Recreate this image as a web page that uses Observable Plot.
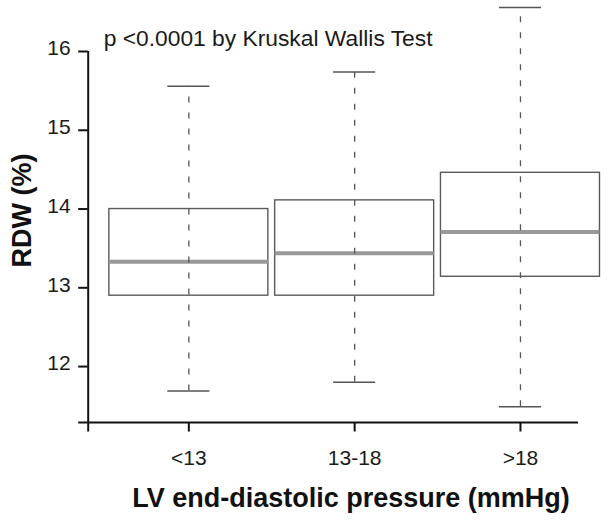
<!DOCTYPE html>
<html><head><meta charset="utf-8">
<script src="https://cdn.jsdelivr.net/npm/d3@7"></script>
<script src="https://cdn.jsdelivr.net/npm/@observablehq/plot@0.6"></script>
<style>body{margin:0;background:#fff}#chart svg{display:block}</style>
</head><body><div id="chart"></div>
<script>
const groups = ["<13", "13-18", ">18"];
const whiskerLow = [11.69, 11.80, 11.49];
const q1 = [12.90, 12.90, 13.14];
const median = [13.33, 13.44, 13.71];
const q3 = [14.00, 14.11, 14.46];
const whiskerHigh = [15.56, 15.74, 16.56];
const yTicks = [12, 13, 14, 15, 16];
const annotation = "p <0.0001 by Kruskal Wallis Test";
const xLabel = "LV end-diastolic pressure (mmHg)";
const yLabel = "RDW (%)";

const data = groups.map((g, i) => ({g, pos: i + 1, lo: whiskerLow[i], q1: q1[i], med: median[i], q3: q3[i], hi: whiskerHigh[i]}));
const xDomain = [0.393, 3.35];
const yDomain = [11.29, 16];
const boxHalf = 0.4795, capHalf = 0.127;
const font = "Arial, 'Liberation Sans', sans-serif";
const axisColor = "#111";

const chart = Plot.plot({
  width: 609,
  height: 522,
  marginLeft: 87.7,
  marginRight: 31,
  marginTop: 51,
  marginBottom: 100,
  style: {fontFamily: font, background: "#fff", color: "#111", overflow: "visible"},
  x: {type: "linear", domain: xDomain, axis: null},
  y: {type: "linear", domain: yDomain, axis: null},
  marks: [
    Plot.rect(data, {x1: d => d.pos - boxHalf, x2: d => d.pos + boxHalf, y1: "q1", y2: "q3", fill: "none", stroke: "#5a5a5a", strokeWidth: 1.4}),
    Plot.ruleY(data, {y: "med", x1: d => d.pos - boxHalf, x2: d => d.pos + boxHalf, stroke: "#999", strokeWidth: 4}),
    Plot.ruleX(data, {x: "pos", y1: "lo", y2: "hi", stroke: "#555", strokeWidth: 1.3, strokeDasharray: "6,10"}),
    Plot.ruleY(data, {y: "lo", x1: d => d.pos - capHalf, x2: d => d.pos + capHalf, stroke: "#555", strokeWidth: 1.5}),
    Plot.ruleY(data, {y: "hi", x1: d => d.pos - capHalf, x2: d => d.pos + capHalf, stroke: "#555", strokeWidth: 1.5}),
    Plot.ruleY([yDomain[0]], {x1: xDomain[0], x2: xDomain[1], stroke: axisColor, strokeWidth: 2}),
    Plot.ruleX([xDomain[0]], {y1: yDomain[0], y2: yTicks[yTicks.length - 1], stroke: axisColor, strokeWidth: 2}),
    Plot.axisY({ticks: [yDomain[0], ...yTicks], tickSize: 9.5, tickFormat: () => "", stroke: axisColor, strokeWidth: 2, label: null}),
    Plot.axisY({ticks: yTicks, tickSize: 0, tickPadding: 17.5, tickFormat: d => String(d), fontSize: 21, fill: "#1a1a1a", dy: -3, label: null}),
    Plot.axisX({ticks: [xDomain[0], 1, 2, 3], tickSize: 9.5, tickFormat: () => "", stroke: axisColor, strokeWidth: 2, label: null}),
    Plot.axisX({ticks: [1, 2, 3], tickSize: 0, tickPadding: 28, tickFormat: d => groups[d - 1], fontSize: 21, fill: "#1a1a1a", label: null}),
    Plot.text([annotation], {frameAnchor: "top-left", textAnchor: "start", lineAnchor: "bottom", dx: 15.5, dy: -6, fontSize: 22.8, fill: "#1a1a1a"}),
    Plot.text([xLabel], {frameAnchor: "bottom", textAnchor: "middle", lineAnchor: "bottom", dx: 17.6, dy: 84, fontSize: 27, fontWeight: "bold", fill: "#111"}),
    Plot.text([yLabel], {frameAnchor: "left", textAnchor: "middle", lineAnchor: "bottom", rotate: -90, dx: -57, dy: -26.5, fontSize: 27, fontWeight: "bold", fill: "#111"})
  ]
});
document.getElementById("chart").appendChild(chart);
</script>
</body></html>
